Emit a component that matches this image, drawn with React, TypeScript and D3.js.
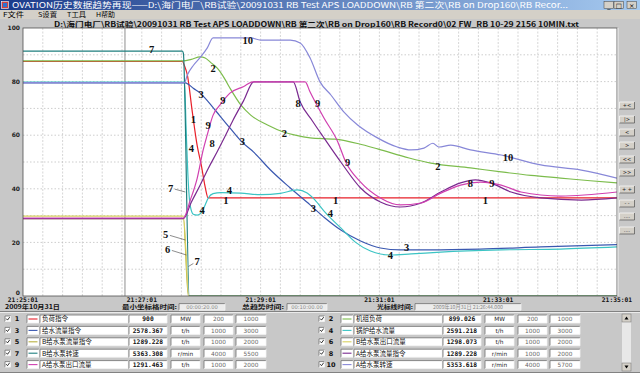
import React from 'react';
import * as d3 from 'd3';

type Pt = [number, number];

// time axis in seconds from 21:25:01, values in % of each tag's range
const timeLabels = ['21:25:01', '21:27:01', '21:29:01', '21:31:01', '21:33:01', '21:35:01'];
const valueTicks = [0, 20, 40, 60, 80, 100];

const series1: Pt[] = [[0, 87.5], [161, 87.5], [163, 86], [166, 82.5], [171, 68.7], [176, 56], [180, 49], [184, 40.7], [187, 36.6], [600, 36.6]];
const series2: Pt[] = [[0, 87.7], [162, 87.7], [170, 88.3], [179, 89.2], [184, 88.8], [190, 87], [196, 85.1], [203, 81.5], [209, 77.6], [220, 71.3], [230, 67.5], [247, 63.8], [263, 61.2], [275, 60], [290, 59], [315, 58.5], [339, 56.8], [359, 54.8], [390, 51.5], [412, 49.6], [452, 47.8], [483, 46.3], [513, 45], [543, 44], [573, 43], [600, 42.2]];
const series3: Pt[] = [[0, 79.5], [164, 79.5], [167, 79], [172, 77.5], [179, 75.7], [187, 72.5], [194, 69.4], [209, 62.7], [221, 57.5], [233, 53.7], [250, 47], [270, 40.3], [290, 34], [305, 29.1], [321, 24.6], [341, 20.5], [361, 17.9], [381, 17.2], [412, 17.2], [462, 17.5], [523, 18.3], [600, 19.2]];
const series4: Pt[] = [[0, 79.8], [163, 79.8], [165, 60], [167, 42], [169, 33.5], [172, 30.5], [176, 30.2], [180, 31], [184, 34], [187, 36.5], [192, 38.2], [200, 38.6], [220, 38.4], [240, 37.8], [260, 38.3], [277, 39.6], [287, 38.4], [295, 35.8], [305, 31.3], [321, 25.4], [336, 20], [351, 16.8], [371, 15.3], [392, 15.7], [422, 16.4], [483, 17.2], [543, 17.5], [600, 18.3]];
const series5: Pt[] = [[0, 28.9], [162, 28.9], [167, 0], [600, 0]];
const series6: Pt[] = [[0, 29.8], [162, 29.8], [167.5, 0], [600, 0]];
const series7: Pt[] = [[0, 91.4], [161, 91.4], [162, 90.5], [168, 0], [600, 0]];
const series8: Pt[] = [[0, 28.9], [162, 28.9], [170, 35], [179, 41.4], [187, 47.5], [196, 53.7], [204, 59.5], [212, 65.5], [223, 73], [233, 79.9], [273, 79.9], [280, 72.4], [292, 65.5], [304, 59], [321, 50], [341, 40.3], [361, 35.1], [381, 33.2], [402, 34.7], [422, 38.8], [442, 42.2], [457, 43.3], [472, 42.2], [493, 38.8], [523, 36.6], [564, 35.8], [600, 36.6]];
const series9: Pt[] = [[0, 29.1], [162, 29.1], [169, 35.8], [176, 44], [182, 54.5], [186, 60], [192, 67.5], [199, 71.3], [209, 75.7], [223, 78.2], [232, 79.9], [285, 79.9], [290, 76.1], [304, 66.4], [318, 57.5], [326, 50], [341, 42.5], [361, 36.6], [381, 34], [402, 34.7], [422, 38.4], [442, 41.4], [462, 42.5], [483, 41.4], [503, 38.8], [543, 37.3], [600, 38.8]];
const series10: Pt[] = [[0, 79.6], [163, 79.6], [166, 82.5], [172, 86], [179, 89], [186, 92.5], [192, 96.3], [230, 96.3], [240, 95.5], [270, 95.5], [280, 94.4], [290, 88.8], [300, 79.9], [311, 75], [324, 68.7], [338, 63.8], [358, 59], [378, 55.6], [392, 54.5], [405, 55.2], [414, 57], [420, 55.6], [432, 56.3], [452, 54.5], [483, 52.6], [523, 48.9], [564, 47], [600, 44]];

const allSeries = [series1, series2, series3, series4, series5, series6, series7, series8, series9, series10];
const seriesColors = ['#e8202a', '#7cbc4c', '#3a58b0', '#3cc4c4', '#b8b040', '#d8d060', '#1f7f7f', '#7a2a90', '#d040b0', '#8888d8'];

// legend table
const legendNames = ['负荷指令', '机组负荷', '给水流量指令', '锅炉给水流量', 'B给水泵流量指令', 'B给水泵出口流量', 'B给水泵转速', 'A给水泵流量指令', 'A给水泵出口流量', 'A给水泵转速'];
const legendValues = ['900', '899.026', '2578.367', '2591.218', '1289.228', '1298.073', '5363.308', '1289.228', '1291.463', '5353.618'];
const legendUnits = ['MW', 'MW', 't/h', 't/h', 't/h', 't/h', 'r/min', 'r/min', 't/h', 'r/min'];
const legendMins = ['200', '200', '1000', '1000', '1000', '1000', '4000', '1000', '1000', '4000'];
const legendMaxs = ['1000', '1000', '3000', '3000', '2000', '2000', '5500', '2000', '2000', '5700'];

// number tags on the curves (time s, value %), optional leader target
const curveTags: { n: string; t: number; v: number; lt?: number; lv?: number }[] = [
  { n: '7', t: 130, v: 92 }, { n: '10', t: 227, v: 95.5 }, { n: '2', t: 192, v: 85 },
  { n: '3', t: 180, v: 75.4 }, { n: '9', t: 202, v: 73.1 }, { n: '1', t: 172, v: 66 },
  { n: '9', t: 187, v: 63.8 }, { n: '3', t: 221.6, v: 57.8 }, { n: '2', t: 264, v: 60.8 },
  { n: '8', t: 191, v: 57 }, { n: '4', t: 170, v: 55.2 }, { n: '4', t: 208.5, v: 39.6 },
  { n: '1', t: 205, v: 35.8 }, { n: '4', t: 181, v: 32 },
  { n: '7', t: 149, v: 40.3, lt: 164, lv: 38.8 }, { n: '5', t: 144, v: 23.1, lt: 164, lv: 20.9 },
  { n: '6', t: 146, v: 17.5, lt: 165, lv: 15.3 }, { n: '7', t: 176, v: 13, lt: 167, lv: 11 },
  { n: '8', t: 278, v: 72 }, { n: '9', t: 297.5, v: 72 }, { n: '9', t: 328, v: 50 },
  { n: '2', t: 419, v: 48.5 }, { n: '10', t: 490, v: 51.9 }, { n: '8', t: 452, v: 42.2 },
  { n: '9', t: 473.5, v: 42.2 }, { n: '1', t: 315.7, v: 35.8 }, { n: '1', t: 467, v: 35.8 },
  { n: '3', t: 293.4, v: 32.8 }, { n: '4', t: 310.6, v: 31 }, { n: '3', t: 387.5, v: 18.3 },
  { n: '4', t: 371, v: 15.3 },
];

const menuItems = ['F文件', 'S设置', 'T工具', 'H帮助'];
const sideButtons = ['+<', '|>', '<', '>', '<<', '>>', '+ +', '- -', '....', '....'];
const sideButtonTops = [102, 116, 129, 142, 156, 169, 186, 200, 213, 227];

const W = 640;
const H = 373;
const M = { left: 23, right: 617, top: 28, bottom: 296 };
const CJK = '"Noto Sans CJK SC", sans-serif';
const SERIF = '"Liberation Serif", "DejaVu Serif", serif';
const GRAY = '#c8c8c8';

const Box = ({ x, y, w, h, fill = '#ffffff' }: { x: number; y: number; w: number; h: number; fill?: string }) => (
  <g>
    <rect x={x} y={y} width={w} height={h} fill={fill} />
    <path d={`M${x},${y + h}V${y}H${x + w}`} fill="none" stroke="#707070" strokeWidth={0.8} />
    <path d={`M${x + w},${y}V${y + h}H${x}`} fill="none" stroke="#f4f4f4" strokeWidth={0.8} />
  </g>
);

const App = () => {
  const x = d3.scaleLinear().domain([0, 600]).range([M.left, M.right]);
  const y = d3.scaleLinear().domain([0, 100]).range([M.bottom, M.top]);
  const line = d3.line<Pt>().x((d) => x(d[0])).y((d) => y(d[1])).curve(d3.curveMonotoneX);

  const vGrid = d3.range(20, 600, 20);
  const hGrid = d3.range(10, 100, 10);
  const cursorT = 103;

  return (
    <div style={{ position: 'absolute', left: 0, top: 0 }}>
      <svg width={W} height={H} style={{ display: 'block' }}>
        <defs>
          <linearGradient id="tb" x1="0" x2="1" y1="0" y2="0">
            <stop offset="0" stopColor="#1a3a8a" />
            <stop offset="1" stopColor="#a6caf0" />
          </linearGradient>
          <clipPath id="plotclip">
            <rect x={M.left} y={M.top} width={M.right - M.left} height={M.bottom - M.top} />
          </clipPath>
        </defs>

        <rect width={W} height={H} fill={GRAY} />

        {/* title bar */}
        <rect x={0} y={0} width={W} height={10} fill="url(#tb)" />
        <rect x={1.5} y={1.5} width={7} height={7} fill="#d04040" stroke="#ffffff" strokeWidth={0.6} />
        <rect x={3} y={3} width={4} height={4} fill="#3070d0" />
        <text x={12} y={8.3} fontSize={8} fill="#ffffff" fontFamily={CJK} textLength={556} lengthAdjust="spacingAndGlyphs">
          {'OVATION历史数据趋势再现——D:\\海门电厂\\RB试验\\20091031 RB Test APS LOADDOWN\\RB 第二次\\RB on Drop160\\RB Recor...'}
        </text>
        {[604, 614, 627].map((bx, i) => (
          <g key={bx}>
            <rect x={bx} y={1.5} width={9.5} height={7} fill="#d4d0c8" stroke="#404040" strokeWidth={0.5} />
            <text x={bx + 4.75} y={7.5} fontSize={6.5} textAnchor="middle" fontFamily="DejaVu Sans" fill="#000">
              {['_', '□', '×'][i]}
            </text>
          </g>
        ))}

        {/* menu bar */}
        <rect x={0} y={10} width={W} height={9} fill="#d4d0c8" />
        {menuItems.map((m, i) => (
          <text key={m} x={[3, 38, 67, 96][i]} y={16.8} fontSize={6.3} fontFamily={CJK} fill="#000" textLength={[21, 19, 19, 19][i]} lengthAdjust="spacingAndGlyphs">
            {m}
          </text>
        ))}

        {/* file path */}
        <text x={54} y={26.6} fontSize={7} fontWeight="bold" fontFamily={CJK} fill="#101010" textLength={525} lengthAdjust="spacingAndGlyphs">
          {'D:\\海门电厂\\RB试验\\20091031 RB Test APS LOADDOWN\\RB 第二次\\RB on Drop160\\RB Record0\\02 FW_RB 10-29 2156 10MIN.txt'}
        </text>

        {/* plot area */}
        <rect x={M.left} y={M.top} width={M.right - M.left} height={M.bottom - M.top} fill="#ffffff" />
        {vGrid.map((t) => (
          <line key={'v' + t} x1={x(t)} x2={x(t)} y1={M.top} y2={M.bottom} stroke="#c4c4c4" strokeWidth={0.7} strokeDasharray="2,1.5" />
        ))}
        {hGrid.map((v) => (
          <line key={'h' + v} x1={M.left} x2={M.right} y1={y(v)} y2={y(v)} stroke="#b8b8b8" strokeWidth={0.7} strokeDasharray="1.5,2" />
        ))}
        <line x1={x(cursorT)} x2={x(cursorT)} y1={M.top} y2={M.bottom} stroke="#707070" strokeWidth={0.8} />

        <g clipPath="url(#plotclip)">
          {allSeries.map((s, i) => (
            <path key={'s' + i} d={line(s) || ''} fill="none" stroke={seriesColors[i]} strokeWidth={1.2} />
          ))}
        </g>

        {curveTags.map((c, i) => {
          const cx = x(c.t);
          const cy = y(c.v);
          let leader = null;
          if (c.lt !== undefined && c.lv !== undefined) {
            const tx = x(c.lt);
            const ty = y(c.lv);
            const dx = tx - cx;
            const dy = ty - cy;
            const len = Math.sqrt(dx * dx + dy * dy);
            leader = <line x1={cx + (dx / len) * 4.5} y1={cy + (dy / len) * 4.5} x2={tx} y2={ty} stroke="#404040" strokeWidth={0.6} />;
          }
          return (
            <g key={'c' + i}>
              {leader}
              <text x={cx} y={cy} dy="0.35em" textAnchor="middle" fontSize={10.5} fontWeight="bold" fontFamily={SERIF} fill="#111">
                {c.n}
              </text>
            </g>
          );
        })}

        <rect x={M.left} y={M.top} width={M.right - M.left} height={M.bottom - M.top} fill="none" stroke="#505050" strokeWidth={0.8} />

        {/* value axis labels */}
        {valueTicks.map((v) => (
          <text key={'y' + v} x={20} y={v === 0 ? y(v) - 3 : y(v)} dy="0.35em" textAnchor="end" fontSize={6} fontWeight="bold" fontFamily="DejaVu Sans" fill="#222">
            {v}
          </text>
        ))}

        {/* side buttons */}
        <line x1={M.right + 1} x2={M.right + 1} y1={M.top} y2={M.bottom} stroke="#f0f0f0" strokeWidth={1} />
        {sideButtons.map((b, i) => (
          <g key={'b' + i}>
            <rect x={619.5} y={sideButtonTops[i]} width={15} height={7} fill="#d4d0c8" />
            <path d={`M619.5,${sideButtonTops[i] + 7}V${sideButtonTops[i]}H634.5`} fill="none" stroke="#ffffff" strokeWidth={0.7} />
            <path d={`M634.5,${sideButtonTops[i]}V${sideButtonTops[i] + 7}H619.5`} fill="none" stroke="#505050" strokeWidth={0.7} />
            <text x={627} y={sideButtonTops[i] + 5.4} fontSize={5} textAnchor="middle" fontFamily="DejaVu Sans" fill="#222">
              {b}
            </text>
          </g>
        ))}

        {/* time axis */}
        {timeLabels.map((l, i) => (
          <text key={l} x={x(i * 120)} y={301.8} textAnchor="middle" fontSize={6.3} fontWeight="bold" fontFamily="DejaVu Sans Mono" fill="#111">
            {l}
          </text>
        ))}
        <text x={5} y={309.3} fontSize={5.6} fontWeight="bold" fontFamily={CJK} fill="#111" textLength={55} lengthAdjust="spacingAndGlyphs">
          2009年10月31日
        </text>
        <text x={122} y={309.3} fontSize={5.6} fontWeight="bold" fontFamily={CJK} fill="#111" textLength={55} lengthAdjust="spacingAndGlyphs">
          最小坐标格时间:
        </text>
        <Box x={179} y={303.6} w={46} h={6.6} fill="#ececec" />
        <text x={202} y={308.9} fontSize={5.2} textAnchor="middle" fontFamily="DejaVu Sans" fill="#888">00:00:20.00</text>
        <text x={242} y={309.3} fontSize={5.6} fontWeight="bold" fontFamily={CJK} fill="#111" textLength={42} lengthAdjust="spacingAndGlyphs">
          总趋势时间:
        </text>
        <Box x={287} y={303.6} w={40} h={6.6} fill="#ececec" />
        <text x={307} y={308.9} fontSize={5.2} textAnchor="middle" fontFamily="DejaVu Sans" fill="#888">00:10:00.00</text>
        <text x={377} y={309.3} fontSize={5.6} fontWeight="bold" fontFamily={CJK} fill="#111" textLength={36} lengthAdjust="spacingAndGlyphs">
          光标线时间:
        </text>
        <Box x={415} y={303.6} w={106} h={6.6} fill="#ececec" />
        <text x={468} y={308.9} fontSize={5.2} textAnchor="middle" fontFamily={CJK} fill="#888">2009年10月31日 21:26:44.000</text>

        {/* legend table */}
        <line x1={0} x2={W} y1={311.5} y2={311.5} stroke="#707070" strokeWidth={0.8} />
        <line x1={0} x2={W} y1={312.5} y2={312.5} stroke="#f4f4f4" strokeWidth={0.8} />
        {legendNames.map((name, i) => {
          const ox = i % 2 === 0 ? 0 : 314;
          const top = 315 + Math.floor(i / 2) * 11.4;
          const base = top + 6.4;
          return (
            <g key={'l' + i}>
              <Box x={ox + 5} y={top + 1} w={5.5} h={5.5} />
              <path d={`M${ox + 6.2},${top + 3.6}l1.3,1.5l2.2,-3`} fill="none" stroke="#000" strokeWidth={0.8} />
              <text x={ox + 17} y={base} fontSize={6.5} fontWeight="bold" textAnchor="middle" fontFamily="DejaVu Sans" fill="#111">
                {i + 1}
              </text>
              <Box x={ox + 27} y={top} w={12} h={8} />
              <line x1={ox + 28.5} x2={ox + 37.5} y1={top + 4} y2={top + 4} stroke={seriesColors[i]} strokeWidth={1.1} />
              <Box x={ox + 40} y={top} w={88} h={8} />
              <text x={ox + 42} y={base} fontSize={6.5} fontFamily={CJK} fill="#111">
                {name}
              </text>
              <Box x={ox + 129} y={top} w={38} h={8} />
              <text x={ox + 148} y={base} fontSize={6.3} fontWeight="bold" textAnchor="middle" fontFamily="DejaVu Sans Mono" fill="#111">
                {legendValues[i]}
              </text>
              <Box x={ox + 171} y={top} w={29} h={8} />
              <text x={ox + 185.5} y={base} fontSize={5.8} textAnchor="middle" fontFamily="DejaVu Sans" fill="#222">
                {legendUnits[i]}
              </text>
              <Box x={ox + 204} y={top} w={29} h={8} />
              <text x={ox + 218.5} y={base} fontSize={5.8} textAnchor="middle" fontFamily="DejaVu Sans" fill="#666">
                {legendMins[i]}
              </text>
              <Box x={ox + 236} y={top} w={30} h={8} />
              <text x={ox + 251} y={base} fontSize={5.8} textAnchor="middle" fontFamily="DejaVu Sans" fill="#666">
                {legendMaxs[i]}
              </text>
            </g>
          );
        })}
        {/* legend scrollbar */}
        <rect x={622} y={314} width={9} height={57} fill="#e8e8e8" />
        <rect x={622} y={314} width={9} height={8} fill="#d4d0c8" stroke="#707070" strokeWidth={0.5} />
        <rect x={622} y={363} width={9} height={8} fill="#d4d0c8" stroke="#707070" strokeWidth={0.5} />
        <path d="M624.5,319.5h4l-2,-3z" fill="#000" />
        <path d="M624.5,365.5h4l-2,3z" fill="#000" />
        <line x1={0} x2={W} y1={372.5} y2={372.5} stroke="#707070" strokeWidth={0.8} />
      </svg>
    </div>
  );
};

export default App;
